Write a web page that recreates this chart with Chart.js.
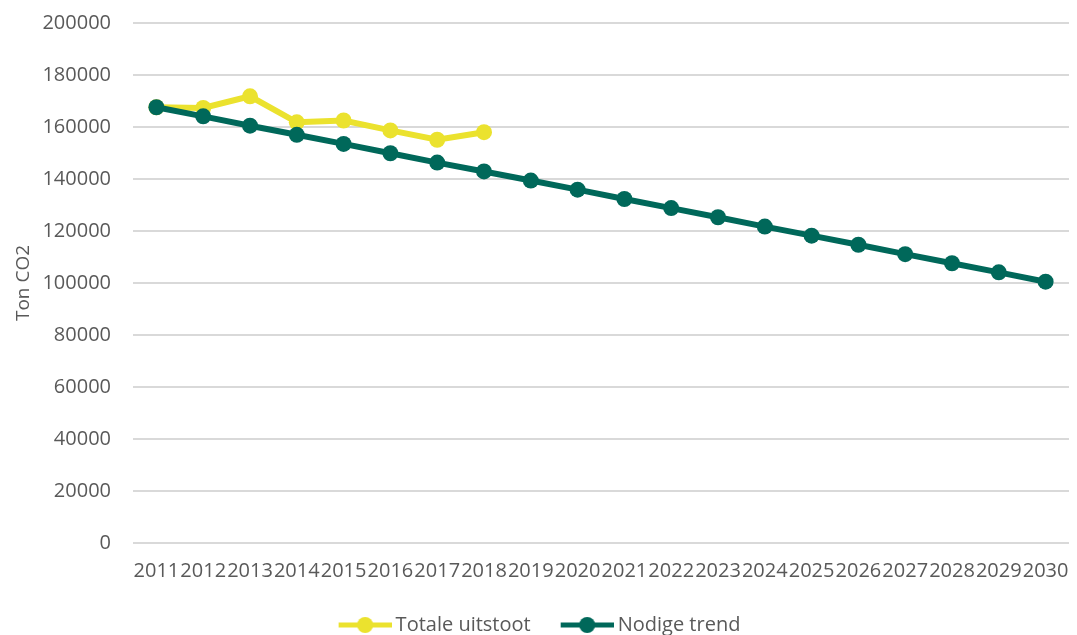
<!DOCTYPE html>
<html lang="nl">
<head>
  <meta charset="UTF-8">
  <title>CO2 uitstoot</title>
  <script src="https://cdn.jsdelivr.net/npm/chart.js"></script>
  <style>
    html, body { margin: 0; padding: 0; background: #fff; }
    #wrap { width: 1077px; height: 635px; }
  </style>
</head>
<body>
  <div id="wrap"><canvas id="co2Chart" width="1077" height="635"></canvas></div>

  <script>
    const years = ['2011', '2012', '2013', '2014', '2015', '2016', '2017', '2018', '2019', '2020',
                   '2021', '2022', '2023', '2024', '2025', '2026', '2027', '2028', '2029', '2030'];

    // Measured emissions (only up to 2018)
    const totaleUitstoot = [167600, 167300, 171800, 161800, 162500, 158700, 155100, 158000];

    // Required reduction path towards 2030
    const nodigeTrend = [167600, 164100, 160500, 157000, 153500, 149900, 146300, 142900, 139400, 135900,
                         132300, 128800, 125300, 121700, 118200, 114700, 111100, 107600, 104100, 100500];

    const yTicks = [0, 20000, 40000, 60000, 80000, 100000, 120000, 140000, 160000, 180000, 200000];

    const YELLOW = '#ebe22e';
    const GREEN = '#00685a';
    const TEXT = '#595959';
    const FONT = "'Open Sans', 'Liberation Sans', sans-serif";

    // legend marker: short line with a dot in the middle.
    // The canvas is wider than the legend box so the marker sits closer to its text.
    function legendMarker(color) {
      const c = document.createElement('canvas');
      c.width = 65;
      c.height = 18;
      const g = c.getContext('2d');
      g.strokeStyle = color;
      g.lineWidth = 5;
      g.beginPath();
      g.moveTo(12, 9);
      g.lineTo(65, 9);
      g.stroke();
      g.fillStyle = color;
      g.beginPath();
      g.arc(38.5, 9, 8, 0, Math.PI * 2);
      g.fill();
      return c;
    }

    const ctx = document.getElementById('co2Chart').getContext('2d');
    new Chart(ctx, {
      type: 'line',
      data: {
        labels: years,
        datasets: [
          {
            label: 'Totale uitstoot',
            data: totaleUitstoot,
            borderColor: YELLOW,
            backgroundColor: YELLOW,
            borderWidth: 6,
            pointRadius: 8,
            pointHoverRadius: 8,
            pointBorderWidth: 0,
            fill: false,
            order: 2
          },
          {
            label: 'Nodige trend',
            data: nodigeTrend,
            borderColor: GREEN,
            backgroundColor: GREEN,
            borderWidth: 6,
            pointRadius: 8,
            pointHoverRadius: 8,
            pointBorderWidth: 0,
            fill: false,
            order: 1
          }
        ]
      },
      options: {
        responsive: false,
        animation: false,
        layout: { padding: { top: 23, right: 4, left: 0, bottom: -10 } },
        plugins: {
          legend: {
            display: true,
            position: 'bottom',
            labels: {
              color: TEXT,
              font: { family: FONT, size: 20 },
              usePointStyle: true,
              pointStyleWidth: 53,
              padding: 24,
              generateLabels(chart) {
                return chart.data.datasets.map((ds, i) => ({
                  text: ds.label,
                  fillStyle: ds.borderColor,
                  strokeStyle: ds.borderColor,
                  fontColor: TEXT,
                  lineWidth: 0,
                  pointStyle: legendMarker(ds.borderColor),
                  datasetIndex: i,
                  hidden: false
                }));
              }
            }
          },
          tooltip: { enabled: false }
        },
        scales: {
          x: {
            offset: true,
            grid: { display: false },
            border: { display: false },
            ticks: {
              color: TEXT,
              font: { family: FONT, size: 20 },
              autoSkip: false,
              maxRotation: 0,
              padding: 8
            }
          },
          y: {
            min: 0,
            max: 200000,
            afterBuildTicks(scale) {
              scale.ticks = yTicks.map(v => ({ value: v }));
            },
            afterFit(scale) {
              scale.width = 133;
              // top gridline sits at the layout padding, not below the label overflow
              scale.paddingTop = 0;
              scale.paddingBottom = 0;
            },
            grid: { color: '#d9d9d9', lineWidth: 2, drawTicks: false },
            border: { display: false },
            ticks: {
              color: TEXT,
              font: { family: FONT, size: 20 },
              padding: 22,
              callback: v => String(v)
            },
            title: {
              display: true,
              text: 'Ton CO2',
              color: TEXT,
              font: { family: FONT, size: 19 },
              padding: { top: 12, bottom: 4 }
            }
          }
        }
      }
    });
  </script>
</body>
</html>
